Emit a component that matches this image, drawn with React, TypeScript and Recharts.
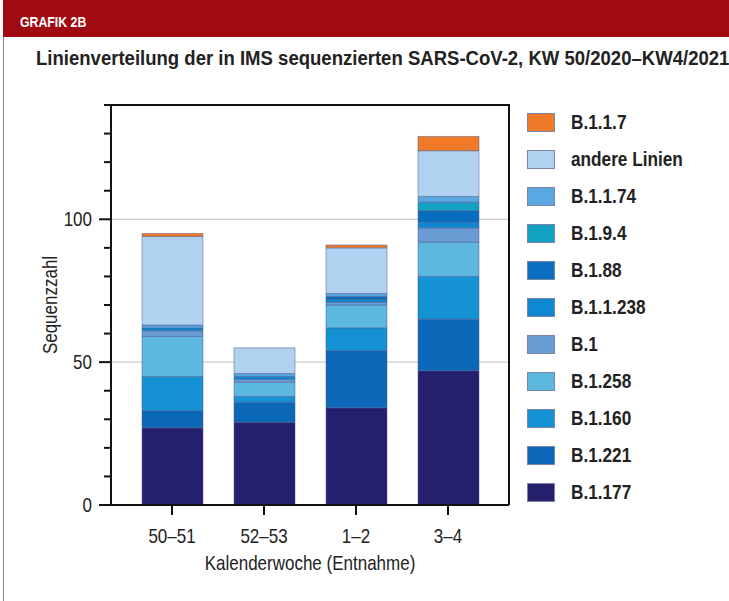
import React from "react";
import { BarChart, Bar, XAxis, YAxis, CartesianGrid } from "recharts";

const FONT = "'Liberation Sans', Arial, sans-serif";
const SQUEEZE = 0.85;

const weeks = ["50–51", "52–53", "1–2", "3–4"];
const yTicks = [0, 10, 20, 30, 40, 50, 60, 70, 80, 90, 100, 110, 120, 130, 140];
const Y_MAX = 140;
const gridValues = [50, 100, Y_MAX];

// stacked bottom -> top
const lineages = [
  "B.1.177",
  "B.1.221",
  "B.1.160",
  "B.1.258",
  "B.1",
  "B.1.1.238",
  "B.1.88",
  "B.1.9.4",
  "B.1.1.74",
  "andere Linien",
  "B.1.1.7",
];
const colors = [
  "#25206e",
  "#0b68b8",
  "#1492d4",
  "#5cb8df",
  "#6a9cd4",
  "#0e88d0",
  "#0a6ec0",
  "#14a2c4",
  "#5aa8e2",
  "#b0d2f0",
  "#f07a28",
];

const b1177 = [27, 29, 34, 47];
const b1221 = [6, 7, 20, 18];
const b1160 = [12, 2, 8, 15];
const b1258 = [14, 5, 8, 12];
const b1 = [2, 1, 1, 5];
const b11238 = [1, 1, 1, 2];
const b188 = [0, 0, 1, 4];
const b194 = [0, 0, 0, 3];
const b1174 = [1, 1, 1, 2];
const andere = [31, 9, 16, 16];
const b117 = [1, 0, 1, 5];

const series = [b1177, b1221, b1160, b1258, b1, b11238, b188, b194, b1174, andere, b117];

const data = weeks.map((week, i) => {
  const row: Record<string, string | number> = { week };
  lineages.forEach((name, k) => {
    row[name] = series[k][i];
  });
  return row;
});

const W = 729;
const H = 601;
const MT = 105;
const MR = 220;
const MB = 26;
const ML = 0;
const Y_W = 111;
const X_H = 70;
const PLOT_RIGHT = W - MR;

// condensed-looking text: no narrow face installed, so squeeze horizontally
function Narrow({ x, y, anchor, rotate, children }: any) {
  const t = `translate(${x},${y})${rotate ? ` rotate(${rotate})` : ""} scale(${SQUEEZE},1)`;
  return (
    <g transform={t}>
      <text x={0} y={0} textAnchor={anchor} fontSize={20} fill="#222" fontFamily={FONT}>
        {children}
      </text>
    </g>
  );
}

function XTick({ x, y, payload }: any) {
  return (
    <g>
      <line x1={x} x2={x} y1={y} y2={y + 10} stroke="#111" strokeWidth={2} />
      <Narrow x={x} y={y + 38} anchor="middle">
        {payload.value}
      </Narrow>
    </g>
  );
}

function YTick({ x, y, payload }: any) {
  const major = payload.value % 50 === 0;
  return (
    <g>
      <line x1={x - (major ? 12 : 7)} x2={x} y1={y} y2={y} stroke="#111" strokeWidth={2} />
      {major && (
        <Narrow x={x - 19} y={y + 7} anchor="end">
          {payload.value}
        </Narrow>
      )}
    </g>
  );
}

function YLabel({ viewBox }: any) {
  const cy = viewBox.y + viewBox.height / 2;
  return (
    <Narrow x={57} y={cy} anchor="middle" rotate={-90}>
      Sequenzzahl
    </Narrow>
  );
}

function XLabel({ viewBox }: any) {
  return (
    <Narrow x={viewBox.x + viewBox.width / 2} y={570} anchor="middle">
      Kalenderwoche (Entnahme)
    </Narrow>
  );
}

// horizontal grid: light lines at 50/100, the line at the top (140) is the black frame edge
function HLine(props: any) {
  const { x1, x2, y1, y2 } = props;
  const top = y1 < MT + 3;
  return (
    <line
      x1={top ? x1 - 1 : x1}
      x2={top ? x2 + 1 : x2}
      y1={y1}
      y2={y2}
      stroke={top ? "#111" : "#cccccc"}
      strokeWidth={top ? 2 : 1.2}
    />
  );
}

// vertical grid: only the right frame edge
function VLine(props: any) {
  const { x1, x2, y1, y2 } = props;
  return <line x1={x1} x2={x2} y1={y1} y2={y2} stroke="#111" strokeWidth={2} />;
}

function LegendList() {
  const items = lineages.map((name, i) => ({ name, color: colors[i] })).reverse();
  return (
    <div style={{ position: "absolute", left: 527, top: 104, width: 200 }}>
      {items.map((it) => (
        <div key={it.name} style={{ display: "flex", alignItems: "center", height: 37 }}>
          <span
            style={{
              width: 28,
              height: 19,
              background: it.color,
              border: "1px solid #7a86a8",
              boxSizing: "border-box",
              marginRight: 16,
              flex: "none",
            }}
          />
          <span
            style={{
              display: "inline-block",
              fontSize: 20,
              fontWeight: 700,
              color: "#222",
              whiteSpace: "nowrap",
              transform: "scaleX(0.86)",
              transformOrigin: "left center",
            }}
          >
            {it.name}
          </span>
        </div>
      ))}
    </div>
  );
}

export default function App() {
  return (
    <div
      style={{
        position: "absolute",
        left: 0,
        top: 0,
        width: W,
        height: H,
        background: "#fff",
        overflow: "hidden",
        fontFamily: FONT,
      }}
    >
      <div style={{ position: "absolute", left: 3, top: 0, width: 1, height: H, background: "#8a8a8a" }} />
      <div style={{ position: "absolute", left: 3, top: 0, right: 0, height: 37, background: "#a00b12" }}>
        <span
          style={{
            position: "absolute",
            left: 17,
            top: 14,
            fontSize: 15,
            lineHeight: "15px",
            fontWeight: 700,
            color: "#fff",
            transform: "scaleX(0.82)",
            transformOrigin: "left center",
            whiteSpace: "nowrap",
          }}
        >
          GRAFIK 2B
        </span>
      </div>
      <div
        style={{
          position: "absolute",
          left: 36,
          top: 48,
          fontSize: 20,
          lineHeight: "20px",
          fontWeight: 700,
          color: "#222",
          whiteSpace: "nowrap",
          transform: "scaleX(0.927)",
          transformOrigin: "left center",
        }}
      >
        Linienverteilung der in IMS sequenzierten SARS-CoV-2, KW 50/2020–KW4/2021
      </div>
      <div style={{ position: "absolute", left: 0, top: 0 }}>
        <BarChart
          width={W}
          height={H}
          data={data}
          margin={{ top: MT, right: MR, bottom: MB, left: ML }}
          barSize={61}
        >
          <CartesianGrid
            horizontalValues={gridValues}
            verticalPoints={[PLOT_RIGHT]}
            horizontal={<HLine />}
            vertical={<VLine />}
          />
          <XAxis
            dataKey="week"
            padding={{ left: 15, right: 15 }}
            height={X_H}
            tickSize={0}
            tickMargin={0}
            tickLine={false}
            tick={<XTick />}
            axisLine={{ stroke: "#111", strokeWidth: 2 }}
            label={<XLabel />}
            interval={0}
          />
          <YAxis
            domain={[0, Y_MAX]}
            ticks={yTicks}
            interval={0}
            width={Y_W}
            tickSize={0}
            tickMargin={0}
            tickLine={false}
            tick={<YTick />}
            axisLine={{ stroke: "#111", strokeWidth: 2 }}
            label={<YLabel />}
          />
          {lineages.map((name, i) => (
            <Bar
              key={name}
              dataKey={name}
              stackId="a"
              fill={colors[i]}
              stroke="#4a5888"
              strokeWidth={0.7}
              strokeOpacity={0.7}
              isAnimationActive={false}
            />
          ))}
        </BarChart>
      </div>
      <LegendList />
    </div>
  );
}
